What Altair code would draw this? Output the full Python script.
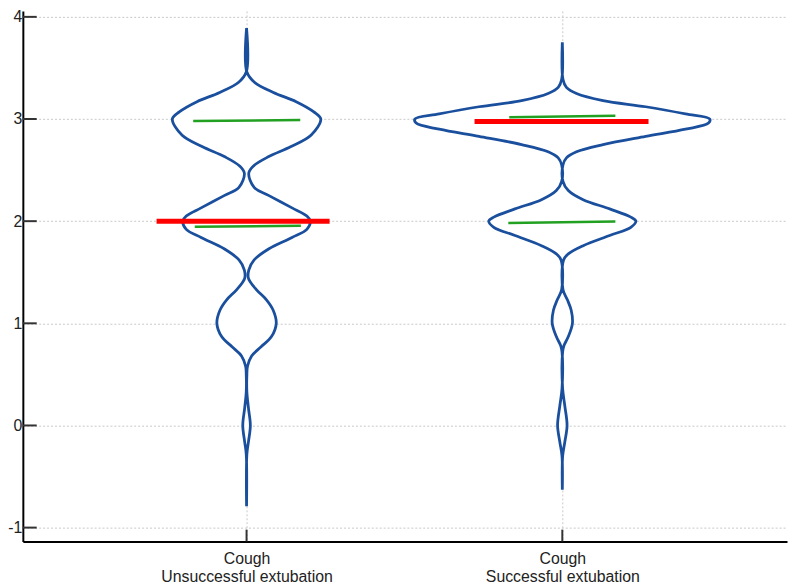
import altair as alt
import pandas as pd

# ---- data ----
GROUPS = ["Unsuccessful extubation", "Successful extubation"]
CENTERS = [1, 2]
X_LABELS = [["Cough", "Unsuccessful extubation"], ["Cough", "Successful extubation"]]
Y_TICKS = [-1, 0, 1, 2, 3, 4]

# violin outline: value (y) and half width (in category units)
V1_Y = [3.89, 3.46, 3.36, 3.26, 3.17, 3.07, 3.00, 2.84, 2.73, 2.63, 2.54, 2.47,
        2.33, 2.25, 2.13, 2.05, 2.00, 1.92, 1.84, 1.73, 1.62, 1.52, 1.44, 1.33,
        1.23, 1.13, 1.00, 0.87, 0.77, 0.68, 0.58, 0.50, 0.33, 0.17, 0.00, -0.16, -0.28, -0.79]
V1_HW = [0.0, 0.001, 0.025, 0.085, 0.157, 0.213, 0.235, 0.204, 0.141, 0.069, 0.022, 0.007,
         0.024, 0.071, 0.144, 0.191, 0.202, 0.191, 0.144, 0.071, 0.024, 0.007, 0.006, 0.031,
         0.063, 0.084, 0.094, 0.079, 0.046, 0.016, 0.003, 0.001, 0.001, 0.006, 0.012, 0.006, 0.001, 0.0]

V2_Y = [3.75, 3.39, 3.31, 3.25, 3.18, 3.12, 3.05, 3.00, 2.96, 2.90, 2.83, 2.75, 2.68,
        2.62, 2.55, 2.39, 2.30, 2.21, 2.12, 2.04, 2.00, 1.94, 1.86, 1.76, 1.68, 1.62,
        1.33, 1.23, 1.13, 1.00, 0.87, 0.78, 0.72, 0.36, 0.19, 0.00, -0.16, -0.30, -0.63]
V2_HW = [0.0, 0.002, 0.013, 0.045, 0.129, 0.264, 0.390, 0.467, 0.463, 0.390, 0.264, 0.129, 0.045,
         0.013, 0.002, 0.002, 0.019, 0.066, 0.150, 0.217, 0.233, 0.217, 0.150, 0.066, 0.019, 0.004,
         0.002, 0.016, 0.028, 0.032, 0.019, 0.005, 0.001, 0.001, 0.008, 0.015, 0.008, 0.001, 0.0]

# red (median) lines
MED_Y = [2.0, 2.975]
MED_L = [-0.285, -0.278]
MED_R = [0.263, 0.273]

# green lines
Q_GROUP = [0, 0, 1, 1]
Q_XL = [-0.169, -0.164, -0.168, -0.171]
Q_XR = [0.170, 0.172, 0.168, 0.168]
Q_YL = [2.98, 1.946, 3.018, 1.981]
Q_YR = [2.99, 1.955, 3.031, 1.997]

# ---- tables ----
rows = []
for gi, (ys, hws) in enumerate([(V1_Y, V1_HW), (V2_Y, V2_HW)]):
    c = CENTERS[gi]
    for y, hw in zip(ys, hws):
        rows.append({"g": GROUPS[gi], "y": y, "lo": c - hw, "hi": c + hw})
vdf = pd.DataFrame(rows)

mdf = pd.DataFrame({
    "xl": [CENTERS[i] + MED_L[i] for i in range(2)],
    "xr": [CENTERS[i] + MED_R[i] for i in range(2)],
    "yl": MED_Y, "yr": MED_Y,
})
qdf = pd.DataFrame({
    "xl": [CENTERS[g] + d for g, d in zip(Q_GROUP, Q_XL)],
    "xr": [CENTERS[g] + d for g, d in zip(Q_GROUP, Q_XR)],
    "yl": Q_YL, "yr": Q_YR,
})
ytdf = pd.DataFrame({"v": Y_TICKS})
xtdf = pd.DataFrame({"v": CENTERS})

# ---- scales / axes ----
PLOT_W, PLOT_H = 772, 536
xscale = alt.Scale(domain=[0.2915, 2.7116], nice=False, zero=False)
yscale = alt.Scale(domain=[-1.136, 4.058], nice=False, zero=False)

label_expr = " : ".join(
    f"datum.value == {c} ? {X_LABELS[i]!r}" for i, c in enumerate(CENTERS)
) + " : ''"

xaxis = alt.Axis(values=CENTERS, title=None, labelExpr=label_expr, ticks=False, tickSize=0,
                 labelPadding=9, labelLineHeight=18, labelFontSize=16, labelFont="Liberation Sans",
                 labelLimit=0, labelColor="#222222", domainColor="#000000", domainWidth=2,
                 grid=True, gridDash=[2, 2], gridColor="#c8c8c8", gridWidth=1)
yaxis = alt.Axis(values=Y_TICKS, title=None, ticks=False, tickSize=0, labelPadding=1,
                 labelExpr="replace(datum.label, '\u2212', '-')",
                 labelFontSize=16, labelFont="Liberation Sans", labelColor="#222222",
                 domainColor="#000000", domainWidth=2,
                 grid=True, gridDash=[2, 2], gridColor="#c8c8c8", gridWidth=1)


def X(f):
    return alt.X(f, scale=xscale, axis=xaxis)


def Y(f):
    return alt.Y(f, scale=yscale, axis=yaxis)


violin = alt.Chart(vdf).mark_area(
    orient="horizontal", interpolate="catmull-rom", fill="white", fillOpacity=1,
    stroke="#1a4f9d", strokeWidth=2.8
).encode(y=Y("y:Q"), x=X("lo:Q"), x2="hi:Q", detail="g:N")

green = alt.Chart(qdf).mark_rule(color="#21a021", strokeWidth=2.5).encode(
    x=X("xl:Q"), x2="xr:Q", y=Y("yl:Q"), y2="yr:Q")

red = alt.Chart(mdf).mark_rule(color="#ff0000", strokeWidth=5).encode(
    x=X("xl:Q"), x2="xr:Q", y=Y("yl:Q"), y2="yr:Q")

yticks = alt.Chart(ytdf).mark_rule(color="#333333", strokeWidth=2).encode(
    y=Y("v:Q"), x=alt.value(0), x2=alt.value(14))

xticks = alt.Chart(xtdf).mark_rule(color="#333333", strokeWidth=2).encode(
    x=X("v:Q"), y=alt.value(PLOT_H), y2=alt.value(PLOT_H - 12))

chart = alt.layer(violin, green, red, yticks, xticks).properties(
    width=PLOT_W, height=PLOT_H,
    autosize=alt.AutoSizeParams(type="none"),
    padding={"left": 15, "top": 0, "right": 1, "bottom": 43},
    background="white",
).configure_view(stroke=None)

chart.save("out.html", embed_options={"renderer": "svg", "actions": False})
